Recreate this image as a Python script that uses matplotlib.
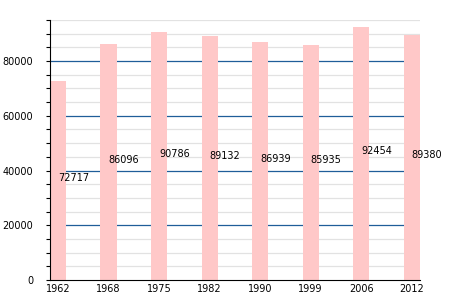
import matplotlib
matplotlib.use("Agg")
import matplotlib.pyplot as plt
from matplotlib.ticker import MultipleLocator

years = ["1962", "1968", "1975", "1982", "1990", "1999", "2006", "2012"]
population = [72717, 86096, 90786, 89132, 86939, 85935, 92454, 89380]

BAR = "#ffc8c8"
BLUE = "#1f5d99"
GREY = "#e2e2e2"

fig = plt.figure(figsize=(4.5, 3.0), dpi=100)
ax = fig.add_axes([0.111, 0.067, 0.822, 0.866])

w = 0.32
x = list(range(len(years)))

for y in range(5000, 95001, 5000):
    if y % 20000 == 0:
        ax.axhline(y, color=BLUE, lw=0.9, zorder=1)
    else:
        ax.axhline(y, color=GREY, lw=0.9, zorder=1)

ax.bar(x, population, width=w, color=BAR, zorder=2)
for i, v in zip(x, population):
    ax.text(i, v / 2 + 800, str(v), ha="left", va="center", fontsize=7, zorder=3)

ax.set_xlim(-w / 2, len(years) - 1 + w / 2)
ax.set_ylim(0, 95000)
ax.set_xticks(x)
ax.set_xticklabels(years)
ax.yaxis.set_major_locator(MultipleLocator(20000))
ax.yaxis.set_minor_locator(MultipleLocator(5000))
ax.tick_params(axis="both", labelsize=7, length=3, width=0.8)
ax.tick_params(axis="y", which="major", pad=9)
ax.tick_params(axis="y", which="minor", length=3, width=0.8)
ax.tick_params(axis="x", length=0, pad=3)
for s in ("top", "right"):
    ax.spines[s].set_visible(False)

fig.savefig("out.png", dpi=100)
